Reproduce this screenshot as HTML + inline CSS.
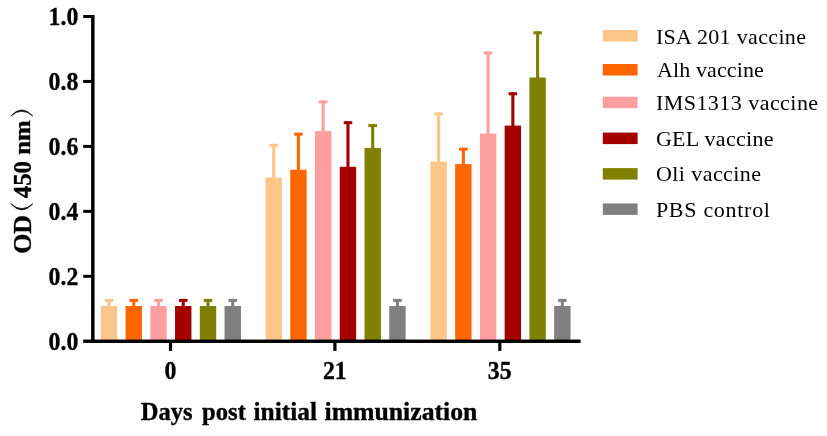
<!DOCTYPE html>
<html><head><meta charset="utf-8"><title>chart</title>
<style>
html,body{margin:0;padding:0;background:#fff;}
svg{display:block;filter:blur(0.45px)}
text{font-family:"Liberation Serif",serif;fill:#000}
.b{font-weight:bold;stroke:#000;stroke-width:0.35px}
.r{font-weight:normal}
</style></head><body>
<svg width="827" height="436" viewBox="0 0 827 436">
<rect width="827" height="436" fill="#fff"/>
<rect x="100.80" y="306.00" width="16.4" height="34.50" fill="#FDC689"/>
<rect x="107.45" y="298.90" width="3.1" height="7.60" fill="#FDC689"/>
<rect x="104.70" y="298.90" width="8.6" height="3" fill="#FDC689"/>
<rect x="125.55" y="306.00" width="16.4" height="34.50" fill="#FF6600"/>
<rect x="132.20" y="298.90" width="3.1" height="7.60" fill="#FF6600"/>
<rect x="129.45" y="298.90" width="8.6" height="3" fill="#FF6600"/>
<rect x="150.30" y="306.00" width="16.4" height="34.50" fill="#FF9E9E"/>
<rect x="156.95" y="298.90" width="3.1" height="7.60" fill="#FF9E9E"/>
<rect x="154.20" y="298.90" width="8.6" height="3" fill="#FF9E9E"/>
<rect x="175.05" y="306.00" width="16.4" height="34.50" fill="#A40000"/>
<rect x="181.70" y="298.90" width="3.1" height="7.60" fill="#A40000"/>
<rect x="178.95" y="298.90" width="8.6" height="3" fill="#A40000"/>
<rect x="199.80" y="306.00" width="16.4" height="34.50" fill="#808000"/>
<rect x="206.45" y="298.90" width="3.1" height="7.60" fill="#808000"/>
<rect x="203.70" y="298.90" width="8.6" height="3" fill="#808000"/>
<rect x="224.55" y="306.00" width="16.4" height="34.50" fill="#808080"/>
<rect x="231.20" y="298.90" width="3.1" height="7.60" fill="#808080"/>
<rect x="228.45" y="298.90" width="8.6" height="3" fill="#808080"/>
<rect x="265.50" y="177.60" width="16.4" height="162.90" fill="#FDC689"/>
<rect x="272.15" y="143.90" width="3.1" height="34.20" fill="#FDC689"/>
<rect x="269.40" y="143.90" width="8.6" height="3" fill="#FDC689"/>
<rect x="290.25" y="169.70" width="16.4" height="170.80" fill="#FF6600"/>
<rect x="296.90" y="132.70" width="3.1" height="37.50" fill="#FF6600"/>
<rect x="294.15" y="132.70" width="8.6" height="3" fill="#FF6600"/>
<rect x="315.00" y="131.10" width="16.4" height="209.40" fill="#FF9E9E"/>
<rect x="321.65" y="100.40" width="3.1" height="31.20" fill="#FF9E9E"/>
<rect x="318.90" y="100.40" width="8.6" height="3" fill="#FF9E9E"/>
<rect x="339.75" y="166.80" width="16.4" height="173.70" fill="#A40000"/>
<rect x="346.40" y="121.20" width="3.1" height="46.10" fill="#A40000"/>
<rect x="343.65" y="121.20" width="8.6" height="3" fill="#A40000"/>
<rect x="364.50" y="147.90" width="16.4" height="192.60" fill="#808000"/>
<rect x="371.15" y="124.10" width="3.1" height="24.30" fill="#808000"/>
<rect x="368.40" y="124.10" width="8.6" height="3" fill="#808000"/>
<rect x="389.25" y="306.00" width="16.4" height="34.50" fill="#808080"/>
<rect x="395.90" y="298.90" width="3.1" height="7.60" fill="#808080"/>
<rect x="393.15" y="298.90" width="8.6" height="3" fill="#808080"/>
<rect x="430.40" y="161.60" width="16.4" height="178.90" fill="#FDC689"/>
<rect x="437.05" y="112.50" width="3.1" height="49.60" fill="#FDC689"/>
<rect x="434.30" y="112.50" width="8.6" height="3" fill="#FDC689"/>
<rect x="455.15" y="164.10" width="16.4" height="176.40" fill="#FF6600"/>
<rect x="461.80" y="147.70" width="3.1" height="16.90" fill="#FF6600"/>
<rect x="459.05" y="147.70" width="8.6" height="3" fill="#FF6600"/>
<rect x="479.90" y="133.60" width="16.4" height="206.90" fill="#FF9E9E"/>
<rect x="486.55" y="51.50" width="3.1" height="82.60" fill="#FF9E9E"/>
<rect x="483.80" y="51.50" width="8.6" height="3" fill="#FF9E9E"/>
<rect x="504.65" y="125.60" width="16.4" height="214.90" fill="#A40000"/>
<rect x="511.30" y="92.30" width="3.1" height="33.80" fill="#A40000"/>
<rect x="508.55" y="92.30" width="8.6" height="3" fill="#A40000"/>
<rect x="529.40" y="77.50" width="16.4" height="263.00" fill="#808000"/>
<rect x="536.05" y="31.30" width="3.1" height="46.70" fill="#808000"/>
<rect x="533.30" y="31.30" width="8.6" height="3" fill="#808000"/>
<rect x="554.15" y="306.00" width="16.4" height="34.50" fill="#808080"/>
<rect x="560.80" y="298.90" width="3.1" height="7.60" fill="#808080"/>
<rect x="558.05" y="298.90" width="8.6" height="3" fill="#808080"/>
<rect x="91.1" y="15.0" width="3.45" height="328" fill="#000"/>
<rect x="83.2" y="339.55" width="497.4" height="3.4" fill="#000"/>
<rect x="83.2" y="274.80" width="9" height="3.0" fill="#000"/>
<rect x="83.2" y="209.85" width="9" height="3.0" fill="#000"/>
<rect x="83.2" y="144.90" width="9" height="3.0" fill="#000"/>
<rect x="83.2" y="79.95" width="9" height="3.0" fill="#000"/>
<rect x="83.2" y="15.00" width="9" height="3.0" fill="#000"/>
<rect x="168.90" y="341" width="3.2" height="9.9" fill="#000"/>
<rect x="333.30" y="341" width="3.2" height="9.9" fill="#000"/>
<rect x="498.20" y="341" width="3.2" height="9.9" fill="#000"/>
<rect x="602.8" y="30.00" width="34.8" height="11.5" fill="#FDC689"/>
<text x="655.90" y="43.50" font-size="22" class="r" letter-spacing="0.33">ISA 201 vaccine</text>
<rect x="602.8" y="64.00" width="34.8" height="11.5" fill="#FF6600"/>
<text x="656.90" y="77.10" font-size="22" class="r" letter-spacing="0.13">Alh vaccine</text>
<rect x="602.8" y="96.70" width="34.8" height="11.5" fill="#FF9E9E"/>
<text x="655.90" y="109.50" font-size="22" class="r" letter-spacing="0.46">IMS1313 vaccine</text>
<rect x="602.8" y="132.60" width="34.8" height="11.5" fill="#A40000"/>
<text x="655.90" y="146.00" font-size="22" class="r" letter-spacing="0.3">GEL vaccine</text>
<rect x="602.8" y="168.10" width="34.8" height="11.5" fill="#808000"/>
<text x="655.90" y="181.00" font-size="22" class="r" letter-spacing="0.44">Oli vaccine</text>
<rect x="602.8" y="203.40" width="34.8" height="11.5" fill="#808080"/>
<text x="655.90" y="217.00" font-size="22" class="r" letter-spacing="0.71">PBS control</text>
<text transform="translate(78.3,349.65) scale(0.945,1)" font-size="25.2" class="b" text-anchor="end">0.0</text>
<text transform="translate(78.3,284.79) scale(0.945,1)" font-size="25.2" class="b" text-anchor="end">0.2</text>
<text transform="translate(78.3,219.93) scale(0.945,1)" font-size="25.2" class="b" text-anchor="end">0.4</text>
<text transform="translate(78.3,155.07) scale(0.945,1)" font-size="25.2" class="b" text-anchor="end">0.6</text>
<text transform="translate(78.3,90.21) scale(0.945,1)" font-size="25.2" class="b" text-anchor="end">0.8</text>
<text transform="translate(78.3,25.35) scale(0.945,1)" font-size="25.2" class="b" text-anchor="end">1.0</text>
<text transform="translate(170.40,379.3) scale(0.945,1)" font-size="25.2" class="b" text-anchor="middle">0</text>
<text transform="translate(334.80,379.3) scale(0.945,1)" font-size="25.2" class="b" text-anchor="middle">21</text>
<text transform="translate(499.70,379.3) scale(0.945,1)" font-size="25.2" class="b" text-anchor="middle">35</text>
<text transform="translate(140.80,420.3) scale(0.9657,1)" font-size="25.4" class="b">Days</text>
<text transform="translate(202.00,420.3) scale(0.9713,1)" font-size="25.4" class="b">post</text>
<text transform="translate(253.54,420.3) scale(0.9993,1)" font-size="25.4" class="b">initial</text>
<text transform="translate(324.53,420.3) scale(1.0132,1)" font-size="25.4" class="b">immunization</text>
<g transform="translate(30.5,252.4) rotate(-90)"><text transform="translate(-1.38,0) scale(0.9964,1)" font-size="26.0" class="b">OD</text><text transform="translate(54.20,0) scale(0.9521,1)" font-size="26.0" class="b">450</text><text transform="translate(97.57,-0.6) scale(1.0519,1)" font-size="23.6" class="b">nm</text><path d="M48.6,-19.6 Q36.4,-8.7 48.6,2.3 Q39.0,-8.7 48.6,-19.6 Z" fill="#000" stroke="#000" stroke-width="0.7" stroke-linejoin="round"/><path d="M136.4,-19.6 Q148.6,-8.7 136.4,2.3 Q146.0,-8.7 136.4,-19.6 Z" fill="#000" stroke="#000" stroke-width="0.7" stroke-linejoin="round"/></g>
</svg>
</body></html>
